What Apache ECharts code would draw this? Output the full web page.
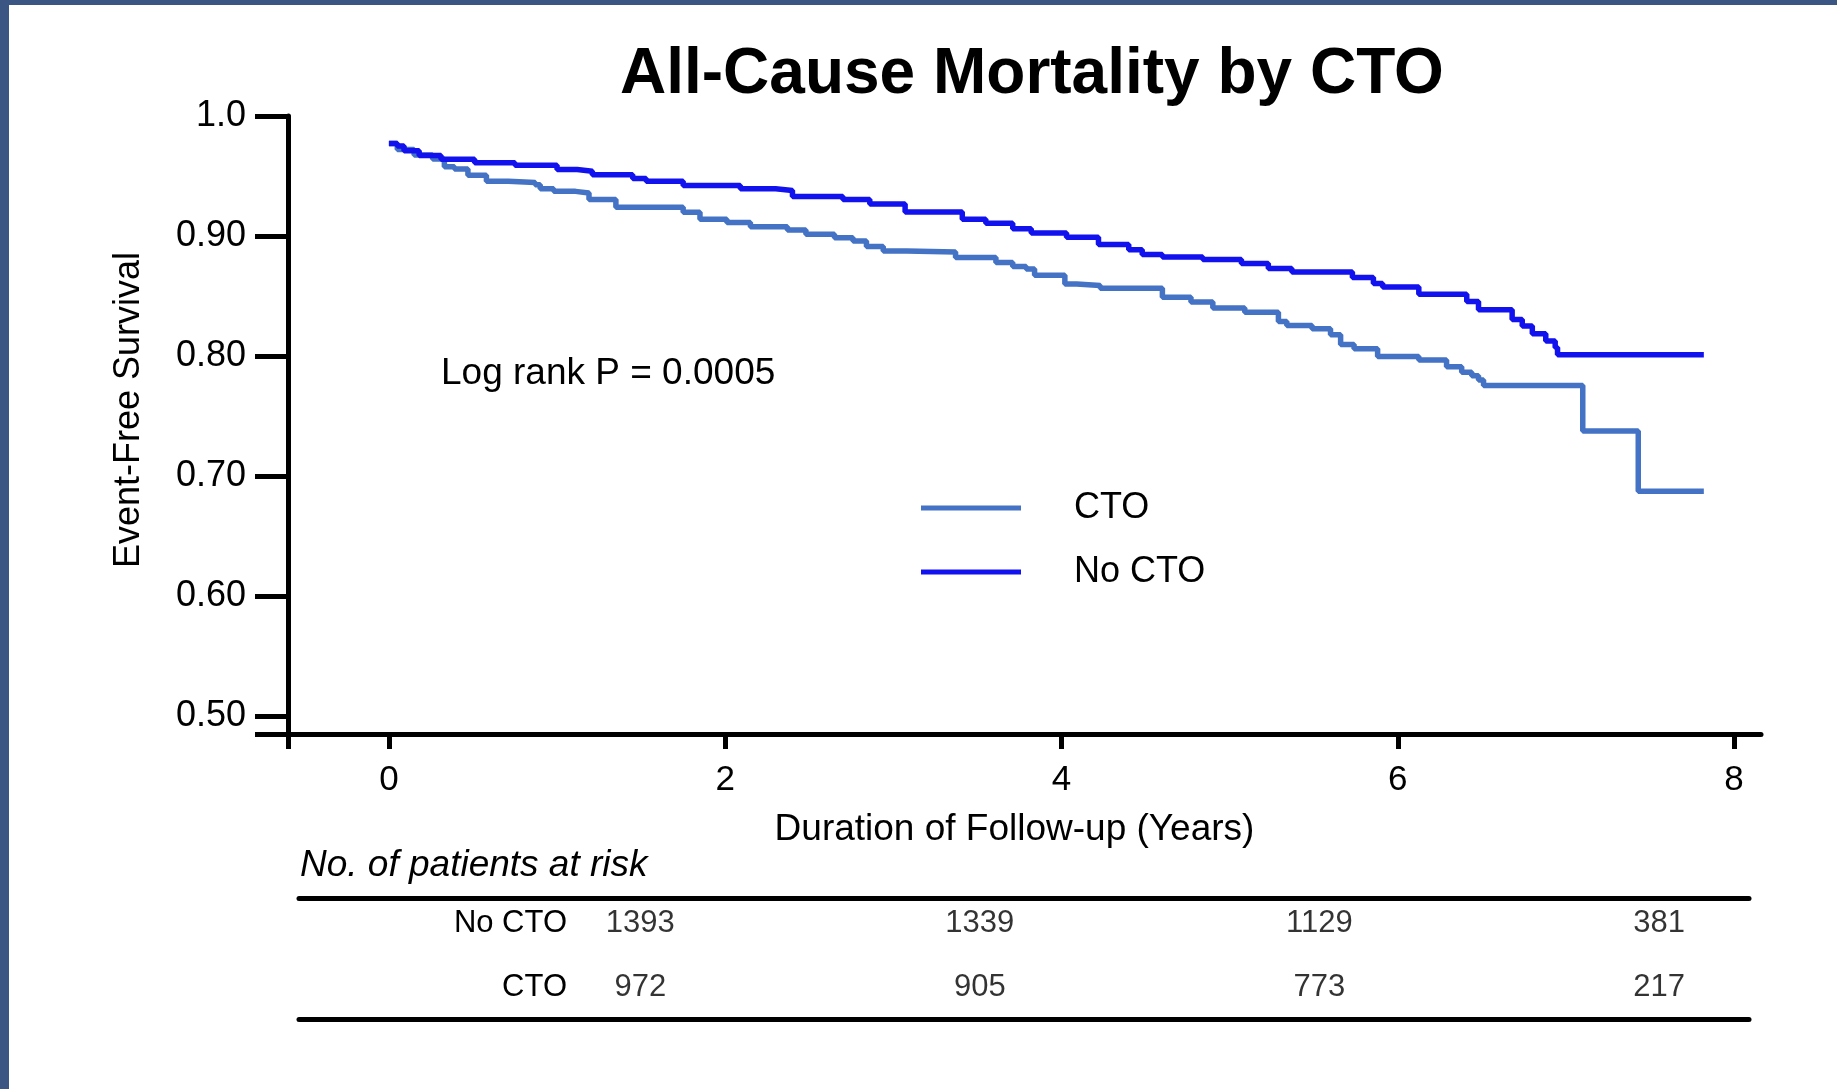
<!DOCTYPE html>
<html>
<head>
<meta charset="utf-8">
<title>All-Cause Mortality by CTO</title>
<script src="https://cdn.jsdelivr.net/npm/echarts@6/dist/echarts.min.js"></script>
<style>
html, body { margin: 0; padding: 0; background: #fff; }
#chart { position: absolute; left: 0; top: 0; width: 1837px; height: 1089px; }
.frame-top { position: absolute; left: 0; top: 0; width: 1837px; height: 5px; background: #3b5683; }
.frame-left { position: absolute; left: 0; top: 0; width: 9px; height: 1089px; background: #3b5683; }
</style>
</head>
<body>
<div id="chart"></div>
<div class="frame-top"></div>
<div class="frame-left"></div>
<script>
// Kaplan-Meier curves (years, survival after each drop)
var ctoTime = [0, 0.05, 0.15, 0.26, 0.33, 0.39, 0.47, 0.58, 0.71, 0.87, 0.90, 0.98, 1.11, 1.19, 1.35, 1.75, 1.85, 2.01, 2.15, 2.37, 2.48, 2.65, 2.76, 2.84, 2.94, 3.08, 3.37, 3.61, 3.71, 3.79, 3.84, 4.02, 4.09, 4.23, 4.60, 4.77, 4.90, 5.09, 5.29, 5.34, 5.49, 5.60, 5.66, 5.74, 5.88, 6.125, 6.29, 6.38, 6.44, 6.48, 6.51, 7.10, 7.43, 7.82]
var ctoSurv = [0.977, 0.972, 0.9676, 0.9642, 0.9577, 0.9558, 0.9507, 0.9457, 0.9445, 0.9428, 0.9394, 0.9372, 0.9358, 0.9304, 0.924, 0.9197, 0.914, 0.9112, 0.9078, 0.905, 0.9014, 0.8985, 0.8959, 0.8912, 0.8876, 0.8866, 0.8821, 0.878, 0.8746, 0.8724, 0.8672, 0.860, 0.8587, 0.8565, 0.849, 0.845, 0.840, 0.8365, 0.8288, 0.8255, 0.8227, 0.8177, 0.8095, 0.8061, 0.7995, 0.7967, 0.7911, 0.7864, 0.7836, 0.780, 0.7755, 0.7376, 0.6873, 0.6873]

var noCtoTime = [0, 0.05, 0.09, 0.18, 0.31, 0.51, 0.75, 1.0, 1.12, 1.21, 1.45, 1.53, 1.75, 2.09, 2.30, 2.40, 2.70, 2.86, 3.07, 3.41, 3.55, 3.71, 3.82, 4.03, 4.22, 4.40, 4.48, 4.60, 4.84, 5.07, 5.23, 5.37, 5.73, 5.855, 5.91, 6.125, 6.41, 6.48, 6.68, 6.74, 6.80, 6.88, 6.936, 6.95, 7.82]
var noCtoSurv = [0.977, 0.975, 0.971, 0.967, 0.964, 0.961, 0.959, 0.9555, 0.954, 0.951, 0.948, 0.9457, 0.942, 0.9394, 0.938, 0.933, 0.9304, 0.9267, 0.920, 0.914, 0.9106, 0.906, 0.9025, 0.899, 0.893, 0.8885, 0.8845, 0.8825, 0.8805, 0.877, 0.873, 0.870, 0.8655, 0.8605, 0.8575, 0.8515, 0.8455, 0.8385, 0.8305, 0.825, 0.8185, 0.8125, 0.807, 0.801, 0.801]

var xTicks = [0, 2, 4, 6, 8]
var yTicks = [0.5, 0.6, 0.7, 0.8, 0.9, 1.0]
var yTickLabels = ['0.50', '0.60', '0.70', '0.80', '0.90', '1.0']

// numbers at risk table
var riskYears = [0, 2, 4, 6]
var riskNoCto = [1393, 1339, 1129, 381]
var riskCto = [972, 905, 773, 217]
var riskRows = ['CTO', 'No CTO']  // bottom row first

var FONT = '"Liberation Sans", Arial, Helvetica, sans-serif'
var ctoColor = '#4472c4'
var noCtoColor = '#1212ee'
var X_MIN = -0.6
var Y_MIN = 0.485

function pairs (xs, ys) {
  return xs.map(function (x, i) { return [x, ys[i]] })
}

var riskData = []
riskYears.forEach(function (yr, i) {
  riskData.push([yr, 1, riskNoCto[i]])
  riskData.push([yr, 0, riskCto[i]])
})

var myChart = echarts.init(document.getElementById('chart'))
myChart.setOption({
  animation: false,
  backgroundColor: '#fff',
  textStyle: { fontFamily: FONT },
  title: [
    {
      text: 'All-Cause Mortality by CTO',
      left: 620,
      top: 43,
      padding: 0,
      textStyle: { fontSize: 64, fontWeight: 'bold', color: '#000', fontFamily: FONT }
    },
    {
      text: 'Log rank P = 0.0005',
      left: 441,
      top: 355,
      padding: 0,
      textStyle: { fontSize: 37, fontWeight: 'normal', color: '#000', fontFamily: FONT }
    },
    {
      text: 'No. of patients at risk',
      left: 300,
      top: 847,
      padding: 0,
      textStyle: { fontSize: 37, fontWeight: 'normal', fontStyle: 'italic', color: '#000', fontFamily: FONT }
    }
  ],
  legend: {
    data: ['CTO', 'No CTO'],
    orient: 'vertical',
    left: 921,
    top: 490,
    padding: 0,
    icon: 'rect',
    itemWidth: 100,
    itemHeight: 5,
    itemGap: 28,
    textStyle: { fontSize: 36, color: '#000', fontFamily: FONT, padding: [0, 0, 0, 48] }
  },
  grid: [
    { left: 288, top: 116, width: 1473, height: 618, outerBoundsMode: 'none' },
    { left: 299, top: 898, width: 1450, height: 121, outerBoundsMode: 'none' }
  ],
  xAxis: [
    {
      type: 'value',
      gridIndex: 0,
      min: X_MIN,
      max: 8.16,
      name: 'Duration of Follow-up (Years)',
      nameLocation: 'middle',
      nameGap: 77,
      nameTextStyle: { fontSize: 37, color: '#000', fontFamily: FONT, padding: [0, 20, 0, 0] },
      axisLine: { onZero: false, lineStyle: { color: '#000', width: 5 } },
      axisTick: { customValues: [X_MIN].concat(xTicks), length: 15, lineStyle: { color: '#000', width: 5 } },
      axisLabel: { customValues: xTicks, margin: 29, fontSize: 35, color: '#000', fontFamily: FONT },
      splitLine: { show: false }
    },
    {
      type: 'value',
      gridIndex: 1,
      position: 'top',
      min: -2.01,
      max: 6.53,
      axisLine: { onZero: false, lineStyle: { color: '#000', width: 5 } },
      axisTick: { show: false },
      axisLabel: { show: false },
      splitLine: { show: false }
    },
    {
      type: 'value',
      gridIndex: 1,
      position: 'bottom',
      min: -2.01,
      max: 6.53,
      axisLine: { onZero: false, lineStyle: { color: '#000', width: 5 } },
      axisTick: { show: false },
      axisLabel: { show: false },
      splitLine: { show: false }
    }
  ],
  yAxis: [
    {
      type: 'value',
      gridIndex: 0,
      min: Y_MIN,
      max: 1.0,
      name: 'Event-Free Survival',
      nameLocation: 'middle',
      nameRotate: 90,
      nameGap: 141,
      nameTextStyle: { fontSize: 36, color: '#000', fontFamily: FONT, padding: [0, 0, 0, 30] },
      axisLine: { onZero: false, lineStyle: { color: '#000', width: 5 } },
      axisTick: { customValues: [Y_MIN].concat(yTicks), length: 33, lineStyle: { color: '#000', width: 5 } },
      axisLabel: {
        customValues: yTicks,
        margin: 42,
        fontSize: 36,
        color: '#000',
        fontFamily: FONT,
        formatter: function (v) {
          for (var i = 0; i < yTicks.length; i++) {
            if (Math.abs(yTicks[i] - v) < 1e-6) return yTickLabels[i]
          }
          return ''
        }
      },
      splitLine: { show: false }
    },
    {
      type: 'value',
      gridIndex: 1,
      min: -0.5,
      max: 1.39,
      axisLine: { show: false, onZero: false },
      axisTick: { show: false },
      axisLabel: {
        customValues: [0, 1],
        margin: -268,
        fontSize: 31,
        color: '#000',
        fontFamily: FONT,
        formatter: function (v) { return riskRows[Math.round(v)] }
      },
      splitLine: { show: false }
    }
  ],
  series: [
    {
      name: 'CTO',
      type: 'line',
      step: 'end',
      xAxisIndex: 0,
      yAxisIndex: 0,
      symbol: 'none',
      data: pairs(ctoTime, ctoSurv),
      itemStyle: { color: ctoColor },
      lineStyle: { color: ctoColor, width: 5.5 }
    },
    {
      name: 'No CTO',
      type: 'line',
      step: 'end',
      xAxisIndex: 0,
      yAxisIndex: 0,
      symbol: 'none',
      data: pairs(noCtoTime, noCtoSurv),
      itemStyle: { color: noCtoColor },
      lineStyle: { color: noCtoColor, width: 5.5 }
    },
    {
      name: 'at risk',
      type: 'scatter',
      xAxisIndex: 1,
      yAxisIndex: 1,
      symbolSize: 0,
      silent: true,
      data: riskData,
      itemStyle: { color: 'transparent' },
      label: {
        show: true,
        position: 'inside',
        fontSize: 31,
        color: '#000',
        fontFamily: FONT,
        formatter: function (p) { return p.value[2] }
      }
    }
  ]
})
</script>
</body>
</html>
